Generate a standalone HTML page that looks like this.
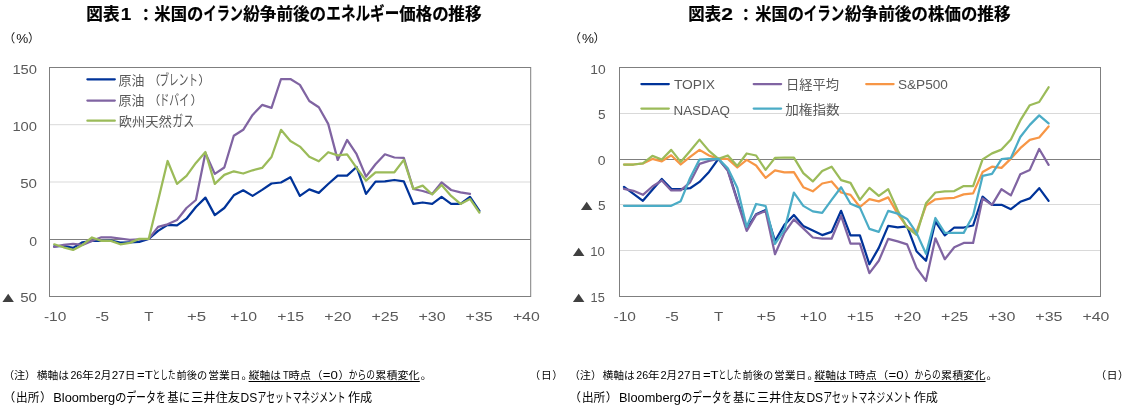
<!DOCTYPE html>
<html lang="ja"><head><meta charset="utf-8"><title>図表</title>
<style>html,body{margin:0;padding:0;background:#fff}body{width:1133px;height:411px;overflow:hidden}svg{display:block}text{font-family:'Liberation Sans','Noto Sans CJK JP',sans-serif}</style></head><body>
<svg width="1133" height="411" viewBox="0 0 1133 411">
<rect width="1133" height="411" fill="#fff"/>
<line x1="49.5" x2="530.7" y1="124.7" y2="124.7" stroke="#d9d9d9" stroke-width="1"/>
<line x1="49.5" x2="530.7" y1="182.0" y2="182.0" stroke="#d9d9d9" stroke-width="1"/>
<line x1="49.5" x2="530.7" y1="239.5" y2="239.5" stroke="#7f7f7f" stroke-width="1"/>
<polyline fill="none" stroke="#003399" stroke-width="2.25" stroke-linejoin="round" stroke-linecap="round" points="54.2,246.3 63.6,245.9 73.1,247.9 82.5,242.3 92.0,240.9 101.4,240.9 110.9,240.5 120.3,242.5 129.8,242.3 139.2,241.9 148.7,238.9 158.1,230.9 167.6,224.9 177.0,225.3 186.5,218.7 195.9,207.0 205.4,197.6 214.8,215.1 224.3,208.0 233.8,195.3 243.2,190.3 252.6,195.9 262.1,189.9 271.5,183.5 281.0,182.5 290.4,177.3 299.9,195.9 309.3,189.4 318.8,192.9 328.2,184.0 337.7,175.6 347.1,175.6 356.6,167.0 366.0,193.9 375.5,181.6 384.9,181.4 394.4,180.0 403.8,181.4 413.3,203.9 422.7,202.5 432.2,203.9 441.6,196.9 451.1,203.9 460.5,203.9 470.0,196.9 479.4,210.9"/>
<polyline fill="none" stroke="#8064a2" stroke-width="2.25" stroke-linejoin="round" stroke-linecap="round" points="54.2,246.9 63.6,244.9 73.1,243.9 82.5,244.9 92.0,240.9 101.4,237.3 110.9,237.3 120.3,238.5 129.8,239.9 139.2,239.3 148.7,238.9 158.1,226.9 167.6,224.3 177.0,220.0 186.5,208.0 195.9,200.0 205.4,153.0 214.8,173.9 224.3,167.5 233.8,135.8 243.2,129.8 252.6,114.9 262.1,104.9 271.5,107.9 281.0,79.0 290.4,79.0 299.9,84.9 309.3,101.0 318.8,107.3 328.2,123.9 337.7,159.9 347.1,139.9 356.6,154.2 366.0,176.6 375.5,164.2 384.9,154.3 394.4,157.5 403.8,157.9 413.3,189.0 422.7,191.0 432.2,193.9 441.6,182.4 451.1,190.0 460.5,192.3 470.0,193.9"/>
<polyline fill="none" stroke="#9bbb59" stroke-width="2.25" stroke-linejoin="round" stroke-linecap="round" points="54.2,244.3 63.6,247.3 73.1,249.9 82.5,244.9 92.0,237.5 101.4,240.9 110.9,240.9 120.3,244.3 129.8,242.9 139.2,238.9 148.7,238.9 158.1,200.5 167.6,161.0 177.0,183.9 186.5,175.9 195.9,162.9 205.4,152.0 214.8,183.9 224.3,174.9 233.8,171.3 243.2,173.5 252.6,170.3 262.1,167.9 271.5,157.0 281.0,129.8 290.4,141.0 299.9,146.6 309.3,156.8 318.8,161.3 328.2,152.2 337.7,155.4 347.1,154.4 356.6,167.9 366.0,180.7 375.5,172.3 384.9,172.3 394.4,172.3 403.8,159.9 413.3,189.0 422.7,185.6 432.2,194.5 441.6,185.0 451.1,195.9 460.5,203.9 470.0,198.9 479.4,212.5"/>
<rect x="49.5" y="67.5" width="481.2" height="229.0" fill="none" stroke="#7f7f7f" stroke-width="1"/>
<line x1="619.5" x2="1100.5" y1="113.5" y2="113.5" stroke="#d9d9d9" stroke-width="1"/>
<line x1="619.5" x2="1100.5" y1="204.5" y2="204.5" stroke="#d9d9d9" stroke-width="1"/>
<line x1="619.5" x2="1100.5" y1="250.5" y2="250.5" stroke="#d9d9d9" stroke-width="1"/>
<line x1="619.5" x2="1100.5" y1="159.5" y2="159.5" stroke="#7f7f7f" stroke-width="1"/>
<polyline fill="none" stroke="#003399" stroke-width="2.25" stroke-linejoin="round" stroke-linecap="round" points="624.0,186.9 633.5,193.8 642.9,200.8 652.4,189.8 661.8,178.9 671.2,188.8 680.7,189.2 690.1,188.2 699.5,181.9 709.0,171.9 718.4,158.9 727.8,169.9 737.3,200.0 746.7,228.5 756.1,214.3 765.6,210.0 775.0,241.0 784.4,224.9 793.9,215.0 803.3,225.9 812.8,230.5 822.2,235.1 831.6,231.9 841.1,210.8 850.5,235.3 859.9,235.3 869.4,264.3 878.8,247.9 888.2,225.9 897.7,227.4 907.1,226.4 916.5,251.2 926.0,260.8 935.4,221.5 944.8,235.3 954.3,227.5 963.7,227.5 973.1,225.5 982.6,196.7 992.0,204.8 1001.5,204.8 1010.9,209.2 1020.3,201.8 1029.8,198.4 1039.2,188.2 1048.6,200.8"/>
<polyline fill="none" stroke="#8064a2" stroke-width="2.25" stroke-linejoin="round" stroke-linecap="round" points="624.0,188.8 633.5,190.8 642.9,194.8 652.4,186.5 661.8,180.5 671.2,190.4 680.7,190.4 690.1,182.3 699.5,163.9 709.0,160.9 718.4,158.9 727.8,170.9 737.3,201.2 746.7,230.9 756.1,214.9 765.6,211.0 775.0,254.2 784.4,232.9 793.9,219.4 803.3,228.4 812.8,237.5 822.2,238.7 831.6,238.7 841.1,215.9 850.5,243.7 859.9,243.7 869.4,273.1 878.8,260.8 888.2,238.9 897.7,241.4 907.1,244.4 916.5,267.8 926.0,280.8 935.4,238.3 944.8,259.2 954.3,247.3 963.7,242.9 973.1,242.9 982.6,198.5 992.0,204.9 1001.5,189.2 1010.9,195.4 1020.3,174.3 1029.8,169.9 1039.2,149.0 1048.6,164.9"/>
<polyline fill="none" stroke="#f79646" stroke-width="2.25" stroke-linejoin="round" stroke-linecap="round" points="624.0,164.5 633.5,164.5 642.9,163.5 652.4,158.9 661.8,161.3 671.2,155.3 680.7,164.5 690.1,156.9 699.5,149.9 709.0,155.5 718.4,158.9 727.8,158.9 737.3,167.5 746.7,159.9 756.1,165.5 765.6,177.9 775.0,170.3 784.4,172.3 793.9,172.1 803.3,187.2 812.8,191.3 822.2,183.5 831.6,181.5 841.1,192.5 850.5,194.9 859.9,207.0 869.4,199.2 878.8,201.4 888.2,197.4 897.7,213.9 907.1,226.9 916.5,231.9 926.0,205.5 935.4,199.3 944.8,198.3 954.3,197.8 963.7,194.4 973.1,193.4 982.6,172.1 992.0,166.7 1001.5,167.9 1010.9,158.6 1020.3,148.2 1029.8,139.8 1039.2,137.5 1048.6,126.4"/>
<polyline fill="none" stroke="#9bbb59" stroke-width="2.25" stroke-linejoin="round" stroke-linecap="round" points="624.0,164.5 633.5,164.5 642.9,163.3 652.4,155.9 661.8,159.5 671.2,149.9 680.7,161.9 690.1,150.9 699.5,139.6 709.0,150.9 718.4,158.9 727.8,155.5 737.3,165.9 746.7,153.5 756.1,155.5 765.6,169.9 775.0,157.9 784.4,157.5 793.9,157.7 803.3,173.2 812.8,181.4 822.2,171.1 831.6,166.7 841.1,180.1 850.5,182.9 859.9,199.9 869.4,187.9 878.8,195.9 888.2,189.1 897.7,210.5 907.1,227.4 916.5,234.9 926.0,203.3 935.4,192.5 944.8,191.4 954.3,191.1 963.7,186.1 973.1,186.1 982.6,159.4 992.0,153.4 1001.5,149.6 1010.9,139.4 1020.3,120.4 1029.8,105.2 1039.2,102.0 1048.6,87.3"/>
<polyline fill="none" stroke="#4bacc6" stroke-width="2.25" stroke-linejoin="round" stroke-linecap="round" points="624.0,205.8 633.5,205.8 642.9,205.8 652.4,205.8 661.8,205.8 671.2,205.8 680.7,201.2 690.1,177.9 699.5,159.5 709.0,159.1 718.4,158.9 727.8,168.3 737.3,187.8 746.7,226.9 756.1,204.0 765.6,206.0 775.0,243.9 784.4,229.9 793.9,192.6 803.3,205.9 812.8,211.4 822.2,212.9 831.6,199.9 841.1,187.3 850.5,203.7 859.9,207.6 869.4,228.9 878.8,231.9 888.2,210.9 897.7,213.7 907.1,218.9 916.5,232.9 926.0,253.8 935.4,218.0 944.8,232.9 954.3,232.9 963.7,232.9 973.1,215.5 982.6,175.9 992.0,173.9 1001.5,159.2 1010.9,158.0 1020.3,137.0 1029.8,124.9 1039.2,115.4 1048.6,123.4"/>
<rect x="619.5" y="67.5" width="481.0" height="229.0" fill="none" stroke="#7f7f7f" stroke-width="1"/>
<text y="20.0" font-size="16.7" fill="#000" font-weight="bold" stroke="#000" stroke-width="0.2" stroke-linejoin="round"><tspan x="86.3" textLength="33.2" lengthAdjust="spacingAndGlyphs">図表</tspan><tspan x="120.7" textLength="10.5" lengthAdjust="spacingAndGlyphs">1</tspan><tspan x="154.3" textLength="49.0" lengthAdjust="spacingAndGlyphs">米国の</tspan><tspan x="203.6" font-size="18.6" textLength="39.3" lengthAdjust="spacingAndGlyphs">イラン</tspan><tspan x="243.3" textLength="82.8" lengthAdjust="spacingAndGlyphs">紛争前後の</tspan><tspan x="326.3" font-size="18.6" textLength="73.0" lengthAdjust="spacingAndGlyphs">エネルギー</tspan><tspan x="399.3" textLength="49.3" lengthAdjust="spacingAndGlyphs">価格の</tspan><tspan x="448.3" textLength="33.3" lengthAdjust="spacingAndGlyphs">推移</tspan></text>
<text y="20.0" font-size="16.7" fill="#000" font-weight="bold" stroke="#000" stroke-width="0.2" stroke-linejoin="round"><tspan x="688.3" textLength="32.7" lengthAdjust="spacingAndGlyphs">図表</tspan><tspan x="721.2" textLength="11.7" lengthAdjust="spacingAndGlyphs">2</tspan><tspan x="755.3" textLength="48.6" lengthAdjust="spacingAndGlyphs">米国の</tspan><tspan x="803.8" font-size="18.6" textLength="40.3" lengthAdjust="spacingAndGlyphs">イラン</tspan><tspan x="844.9" textLength="83.1" lengthAdjust="spacingAndGlyphs">紛争前後の</tspan><tspan x="928.1" textLength="49.2" lengthAdjust="spacingAndGlyphs">株価の</tspan><tspan x="977.3" textLength="33.3" lengthAdjust="spacingAndGlyphs">推移</tspan></text>
<text y="21.4" font-size="16.7" fill="#000" font-weight="bold" stroke="#000" stroke-width="0.2" stroke-linejoin="round"><tspan x="137.4">：</tspan><tspan x="737.6">：</tspan></text>
<text y="42.8" font-size="12.0" fill="#111" font-weight="normal"><tspan x="3.2">（</tspan><tspan x="16.3" font-size="13.2" textLength="12.0" lengthAdjust="spacingAndGlyphs">%</tspan><tspan x="27.9">）</tspan></text>
<text y="42.8" font-size="12.0" fill="#111" font-weight="normal"><tspan x="568.9">（</tspan><tspan x="582.0" font-size="13.2" textLength="12.0" lengthAdjust="spacingAndGlyphs">%</tspan><tspan x="593.6">）</tspan></text>
<text y="74.0" font-size="12.3" fill="#595959" font-weight="normal"><tspan x="12.4" textLength="24.6" lengthAdjust="spacingAndGlyphs">150</tspan></text>
<text y="131.2" font-size="12.3" fill="#595959" font-weight="normal"><tspan x="12.4" textLength="24.6" lengthAdjust="spacingAndGlyphs">100</tspan></text>
<text y="188.4" font-size="12.3" fill="#595959" font-weight="normal"><tspan x="20.2" textLength="16.8" lengthAdjust="spacingAndGlyphs">50</tspan></text>
<text y="245.6" font-size="12.3" fill="#595959" font-weight="normal"><tspan x="29.2" textLength="7.8" lengthAdjust="spacingAndGlyphs">0</tspan></text>
<text y="301.8" font-size="12.3" fill="#595959" font-weight="normal"><tspan x="20.2" textLength="16.8" lengthAdjust="spacingAndGlyphs">50</tspan></text>
<text transform="translate(-1.6,301.7) scale(1.38,1)" font-size="14.2" fill="#404040">▲</text>
<text y="74.2" font-size="12.3" fill="#595959" font-weight="normal"><tspan x="590.2" textLength="15.4" lengthAdjust="spacingAndGlyphs">10</tspan></text>
<text y="119.4" font-size="12.3" fill="#595959" font-weight="normal"><tspan x="598.0" textLength="7.6" lengthAdjust="spacingAndGlyphs">5</tspan></text>
<text y="165.2" font-size="12.3" fill="#595959" font-weight="normal"><tspan x="597.8" textLength="7.8" lengthAdjust="spacingAndGlyphs">0</tspan></text>
<text y="210.0" font-size="12.3" fill="#595959" font-weight="normal"><tspan x="598.0" textLength="7.6" lengthAdjust="spacingAndGlyphs">5</tspan></text>
<text y="256.2" font-size="12.3" fill="#595959" font-weight="normal"><tspan x="590.2" textLength="14.6" lengthAdjust="spacingAndGlyphs">10</tspan></text>
<text y="301.8" font-size="12.3" fill="#595959" font-weight="normal"><tspan x="590.6" textLength="14.2" lengthAdjust="spacingAndGlyphs">15</tspan></text>
<text transform="translate(576.9,210.0) scale(1.38,1)" font-size="14.2" fill="#404040">▲</text>
<text transform="translate(568.9,256.0) scale(1.38,1)" font-size="14.2" fill="#404040">▲</text>
<text transform="translate(568.9,301.8) scale(1.38,1)" font-size="14.2" fill="#404040">▲</text>
<text y="320.9" font-size="12.3" fill="#595959" font-weight="normal"><tspan x="43.9" textLength="22.4" lengthAdjust="spacingAndGlyphs">-10</tspan></text>
<text y="320.9" font-size="12.3" fill="#595959" font-weight="normal"><tspan x="613.6" textLength="22.4" lengthAdjust="spacingAndGlyphs">-10</tspan></text>
<text y="320.9" font-size="12.3" fill="#595959" font-weight="normal"><tspan x="95.5" textLength="13.6" lengthAdjust="spacingAndGlyphs">-5</tspan></text>
<text y="320.9" font-size="12.3" fill="#595959" font-weight="normal"><tspan x="665.2" textLength="13.6" lengthAdjust="spacingAndGlyphs">-5</tspan></text>
<text y="320.9" font-size="12.3" fill="#595959" font-weight="normal"><tspan x="144.3" textLength="9.2" lengthAdjust="spacingAndGlyphs">T</tspan></text>
<text y="320.9" font-size="12.3" fill="#595959" font-weight="normal"><tspan x="714.0" textLength="9.2" lengthAdjust="spacingAndGlyphs">T</tspan></text>
<text y="320.9" font-size="12.3" fill="#595959" font-weight="normal"><tspan x="186.9" textLength="19.2" lengthAdjust="spacingAndGlyphs">+5</tspan></text>
<text y="320.9" font-size="12.3" fill="#595959" font-weight="normal"><tspan x="756.6" textLength="19.2" lengthAdjust="spacingAndGlyphs">+5</tspan></text>
<text y="320.9" font-size="12.3" fill="#595959" font-weight="normal"><tspan x="230.2" textLength="26.8" lengthAdjust="spacingAndGlyphs">+10</tspan></text>
<text y="320.9" font-size="12.3" fill="#595959" font-weight="normal"><tspan x="799.9" textLength="26.8" lengthAdjust="spacingAndGlyphs">+10</tspan></text>
<text y="320.9" font-size="12.3" fill="#595959" font-weight="normal"><tspan x="277.3" textLength="26.8" lengthAdjust="spacingAndGlyphs">+15</tspan></text>
<text y="320.9" font-size="12.3" fill="#595959" font-weight="normal"><tspan x="847.0" textLength="26.8" lengthAdjust="spacingAndGlyphs">+15</tspan></text>
<text y="320.9" font-size="12.3" fill="#595959" font-weight="normal"><tspan x="324.3" textLength="27.2" lengthAdjust="spacingAndGlyphs">+20</tspan></text>
<text y="320.9" font-size="12.3" fill="#595959" font-weight="normal"><tspan x="894.0" textLength="27.2" lengthAdjust="spacingAndGlyphs">+20</tspan></text>
<text y="320.9" font-size="12.3" fill="#595959" font-weight="normal"><tspan x="371.4" textLength="27.2" lengthAdjust="spacingAndGlyphs">+25</tspan></text>
<text y="320.9" font-size="12.3" fill="#595959" font-weight="normal"><tspan x="941.1" textLength="27.2" lengthAdjust="spacingAndGlyphs">+25</tspan></text>
<text y="320.9" font-size="12.3" fill="#595959" font-weight="normal"><tspan x="418.5" textLength="27.2" lengthAdjust="spacingAndGlyphs">+30</tspan></text>
<text y="320.9" font-size="12.3" fill="#595959" font-weight="normal"><tspan x="988.2" textLength="27.2" lengthAdjust="spacingAndGlyphs">+30</tspan></text>
<text y="320.9" font-size="12.3" fill="#595959" font-weight="normal"><tspan x="465.6" textLength="27.2" lengthAdjust="spacingAndGlyphs">+35</tspan></text>
<text y="320.9" font-size="12.3" fill="#595959" font-weight="normal"><tspan x="1035.3" textLength="27.2" lengthAdjust="spacingAndGlyphs">+35</tspan></text>
<text y="320.9" font-size="12.3" fill="#595959" font-weight="normal"><tspan x="512.9" textLength="26.8" lengthAdjust="spacingAndGlyphs">+40</tspan></text>
<text y="320.9" font-size="12.3" fill="#595959" font-weight="normal"><tspan x="1082.6" textLength="26.8" lengthAdjust="spacingAndGlyphs">+40</tspan></text>
<line x1="87.4" x2="114.8" y1="79.3" y2="79.3" stroke="#003399" stroke-width="2.25" stroke-linecap="round"/>
<text y="84.9" font-size="12.9" fill="#595959" font-weight="normal"><tspan x="118.6" textLength="25.9" lengthAdjust="spacingAndGlyphs">原油</tspan><tspan x="147.9" font-size="12.4">（</tspan><tspan x="159.5" font-size="15.0" textLength="38.5" lengthAdjust="spacingAndGlyphs">ブレント</tspan><tspan x="198.2" font-size="12.4">）</tspan></text>
<line x1="87.4" x2="114.8" y1="100.6" y2="100.6" stroke="#8064a2" stroke-width="2.25" stroke-linecap="round"/>
<text y="105.4" font-size="12.9" fill="#595959" font-weight="normal"><tspan x="118.6" textLength="25.9" lengthAdjust="spacingAndGlyphs">原油</tspan><tspan x="147.9" font-size="12.4">（</tspan><tspan x="159.5" font-size="15.0" textLength="29.5" lengthAdjust="spacingAndGlyphs">ドバイ</tspan><tspan x="190.4" font-size="12.4">）</tspan></text>
<line x1="87.4" x2="114.8" y1="120.7" y2="120.7" stroke="#9bbb59" stroke-width="2.25" stroke-linecap="round"/>
<text y="125.8" font-size="12.9" fill="#595959" font-weight="normal"><tspan x="118.8" textLength="53.0" lengthAdjust="spacingAndGlyphs">欧州天然</tspan><tspan x="172.2" font-size="15.0" textLength="21.9" lengthAdjust="spacingAndGlyphs">ガス</tspan></text>
<line x1="641.4" x2="668.8" y1="84.0" y2="84.0" stroke="#003399" stroke-width="2.25" stroke-linecap="round"/>
<text y="88.6" font-size="12.3" fill="#595959" font-weight="normal"><tspan x="673.9" textLength="41.2" lengthAdjust="spacingAndGlyphs">TOPIX</tspan></text>
<line x1="753.7" x2="781.1" y1="84.0" y2="84.0" stroke="#8064a2" stroke-width="2.25" stroke-linecap="round"/>
<text y="89.2" font-size="12.9" fill="#595959" font-weight="normal"><tspan x="786.0" textLength="53.1" lengthAdjust="spacingAndGlyphs">日経平均</tspan></text>
<line x1="866.2" x2="893.6" y1="84.0" y2="84.0" stroke="#f79646" stroke-width="2.25" stroke-linecap="round"/>
<text y="88.6" font-size="12.3" fill="#595959" font-weight="normal"><tspan x="897.9" textLength="50.0" lengthAdjust="spacingAndGlyphs">S&amp;P500</tspan></text>
<line x1="641.4" x2="668.8" y1="108.5" y2="108.5" stroke="#9bbb59" stroke-width="2.25" stroke-linecap="round"/>
<text y="114.8" font-size="12.3" fill="#595959" font-weight="normal"><tspan x="673.5" textLength="56.5" lengthAdjust="spacingAndGlyphs">NASDAQ</tspan></text>
<line x1="753.7" x2="781.1" y1="108.5" y2="108.5" stroke="#4bacc6" stroke-width="2.25" stroke-linecap="round"/>
<text y="113.9" font-size="12.9" fill="#595959" font-weight="normal"><tspan x="785.2" textLength="54.4" lengthAdjust="spacingAndGlyphs">加権指数</tspan></text>
<text y="379.4" font-size="10.67" fill="#000" font-weight="normal"><tspan x="3.4">（</tspan><tspan x="13.9" textLength="11.2" lengthAdjust="spacingAndGlyphs">注</tspan><tspan x="25.1">）</tspan><tspan x="36.8" textLength="32.3" lengthAdjust="spacingAndGlyphs">横軸は</tspan><tspan x="70.4" font-size="10.3" textLength="11.9" lengthAdjust="spacingAndGlyphs">26</tspan><tspan x="82.0" textLength="11.8" lengthAdjust="spacingAndGlyphs">年</tspan><tspan x="94.6" font-size="10.3" textLength="6.2" lengthAdjust="spacingAndGlyphs">2</tspan><tspan x="100.8" textLength="10.5" lengthAdjust="spacingAndGlyphs">月</tspan><tspan x="111.8" font-size="10.3" textLength="13.0" lengthAdjust="spacingAndGlyphs">27</tspan><tspan x="125.1" textLength="10.3" lengthAdjust="spacingAndGlyphs">日</tspan><tspan x="137.1" font-size="10.3" textLength="15.7" lengthAdjust="spacingAndGlyphs">=T</tspan><tspan x="152.6" font-size="11.6" textLength="23.0" lengthAdjust="spacingAndGlyphs">とした</tspan><tspan x="176.6" textLength="30.8" lengthAdjust="spacingAndGlyphs">前後の</tspan><tspan x="208.2" textLength="32.4" lengthAdjust="spacingAndGlyphs">営業日</tspan><tspan x="241.6">。</tspan><tspan x="248.8" textLength="32.2" lengthAdjust="spacingAndGlyphs">縦軸は</tspan><tspan x="282.9" font-size="10.3" textLength="5.7" lengthAdjust="spacingAndGlyphs">T</tspan><tspan x="288.5" textLength="22.6" lengthAdjust="spacingAndGlyphs">時点</tspan><tspan x="311.7">（</tspan><tspan x="322.8" font-size="10.3" textLength="15.1" lengthAdjust="spacingAndGlyphs">=0</tspan><tspan x="338.6">）</tspan><tspan x="348.7" font-size="11.6" textLength="26.3" lengthAdjust="spacingAndGlyphs">からの</tspan><tspan x="375.3" textLength="44.4" lengthAdjust="spacingAndGlyphs">累積変化</tspan><tspan x="420.7">。</tspan></text>
<line x1="248.6" x2="419.8" y1="381.5" y2="381.5" stroke="#000" stroke-width="1"/>
<text y="379.4" font-size="10.67" fill="#000" font-weight="normal"><tspan x="529.6">（</tspan><tspan x="541.0" textLength="10.7" lengthAdjust="spacingAndGlyphs">日</tspan><tspan x="552.3">）</tspan></text>
<text y="401.9" font-size="12" fill="#000" font-weight="normal"><tspan x="3.2">（</tspan><tspan x="16.1" textLength="23.3" lengthAdjust="spacingAndGlyphs">出所</tspan><tspan x="40.0">）</tspan><tspan x="53.3" font-size="12.0" textLength="61.8" lengthAdjust="spacingAndGlyphs">Bloomberg</tspan><tspan x="115.1" textLength="11.5" lengthAdjust="spacingAndGlyphs">の</tspan><tspan x="126.2" font-size="13.2" textLength="39.7" lengthAdjust="spacingAndGlyphs">データを</tspan><tspan x="167.3" textLength="22.7" lengthAdjust="spacingAndGlyphs">基に</tspan><tspan x="190.9" textLength="49.1" lengthAdjust="spacingAndGlyphs">三井住友</tspan><tspan x="240.6" font-size="12.0" textLength="16.7" lengthAdjust="spacingAndGlyphs">DS</tspan><tspan x="257.5" font-size="13.2" textLength="88.2" lengthAdjust="spacingAndGlyphs">アセットマネジメント</tspan><tspan x="347.9" textLength="24.3" lengthAdjust="spacingAndGlyphs">作成</tspan></text>
<text y="379.4" font-size="10.67" fill="#000" font-weight="normal"><tspan x="569.2">（</tspan><tspan x="579.7" textLength="11.2" lengthAdjust="spacingAndGlyphs">注</tspan><tspan x="590.9">）</tspan><tspan x="602.6" textLength="32.3" lengthAdjust="spacingAndGlyphs">横軸は</tspan><tspan x="636.2" font-size="10.3" textLength="11.9" lengthAdjust="spacingAndGlyphs">26</tspan><tspan x="647.8" textLength="11.8" lengthAdjust="spacingAndGlyphs">年</tspan><tspan x="660.4" font-size="10.3" textLength="6.2" lengthAdjust="spacingAndGlyphs">2</tspan><tspan x="666.6" textLength="10.5" lengthAdjust="spacingAndGlyphs">月</tspan><tspan x="677.6" font-size="10.3" textLength="13.0" lengthAdjust="spacingAndGlyphs">27</tspan><tspan x="690.9" textLength="10.3" lengthAdjust="spacingAndGlyphs">日</tspan><tspan x="702.9" font-size="10.3" textLength="15.7" lengthAdjust="spacingAndGlyphs">=T</tspan><tspan x="718.4" font-size="11.6" textLength="23.0" lengthAdjust="spacingAndGlyphs">とした</tspan><tspan x="742.4" textLength="30.8" lengthAdjust="spacingAndGlyphs">前後の</tspan><tspan x="774.0" textLength="32.4" lengthAdjust="spacingAndGlyphs">営業日</tspan><tspan x="807.4">。</tspan><tspan x="814.6" textLength="32.2" lengthAdjust="spacingAndGlyphs">縦軸は</tspan><tspan x="848.7" font-size="10.3" textLength="5.7" lengthAdjust="spacingAndGlyphs">T</tspan><tspan x="854.3" textLength="22.6" lengthAdjust="spacingAndGlyphs">時点</tspan><tspan x="877.5">（</tspan><tspan x="888.6" font-size="10.3" textLength="15.1" lengthAdjust="spacingAndGlyphs">=0</tspan><tspan x="904.4">）</tspan><tspan x="914.5" font-size="11.6" textLength="26.3" lengthAdjust="spacingAndGlyphs">からの</tspan><tspan x="941.1" textLength="44.4" lengthAdjust="spacingAndGlyphs">累積変化</tspan><tspan x="986.5">。</tspan></text>
<line x1="814.4" x2="985.6" y1="381.5" y2="381.5" stroke="#000" stroke-width="1"/>
<text y="379.4" font-size="10.67" fill="#000" font-weight="normal"><tspan x="1095.4">（</tspan><tspan x="1106.8" textLength="10.7" lengthAdjust="spacingAndGlyphs">日</tspan><tspan x="1118.1">）</tspan></text>
<text y="401.9" font-size="12" fill="#000" font-weight="normal"><tspan x="569.0">（</tspan><tspan x="581.9" textLength="23.3" lengthAdjust="spacingAndGlyphs">出所</tspan><tspan x="605.8">）</tspan><tspan x="619.1" font-size="12.0" textLength="61.8" lengthAdjust="spacingAndGlyphs">Bloomberg</tspan><tspan x="680.9" textLength="11.5" lengthAdjust="spacingAndGlyphs">の</tspan><tspan x="692.0" font-size="13.2" textLength="39.7" lengthAdjust="spacingAndGlyphs">データを</tspan><tspan x="733.1" textLength="22.7" lengthAdjust="spacingAndGlyphs">基に</tspan><tspan x="756.7" textLength="49.1" lengthAdjust="spacingAndGlyphs">三井住友</tspan><tspan x="806.4" font-size="12.0" textLength="16.7" lengthAdjust="spacingAndGlyphs">DS</tspan><tspan x="823.3" font-size="13.2" textLength="88.2" lengthAdjust="spacingAndGlyphs">アセットマネジメント</tspan><tspan x="913.7" textLength="24.3" lengthAdjust="spacingAndGlyphs">作成</tspan></text>
</svg></body></html>
